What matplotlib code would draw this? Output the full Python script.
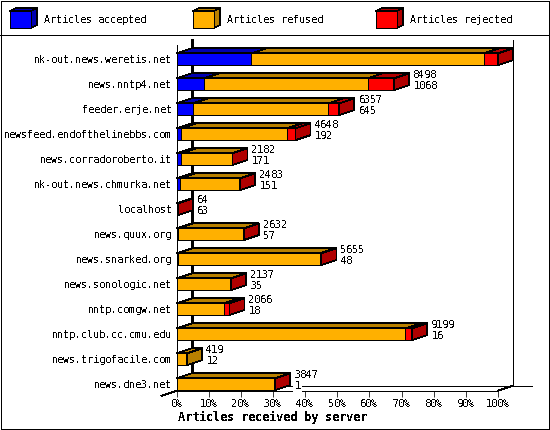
import matplotlib
matplotlib.use("Agg")
from matplotlib import pyplot as plt
from matplotlib.patches import Polygon, Rectangle

servers = ["nk-out.news.weretis.net", "news.nntp4.net", "feeder.erje.net",
           "newsfeed.endofthelinebbs.com", "news.corradoroberto.it",
           "nk-out.news.chmurka.net", "localhost", "news.quux.org",
           "news.snarked.org", "news.sonologic.net", "nntp.comgw.net",
           "nntp.club.cc.cmu.edu", "news.trigofacile.com", "news.dne3.net"]
received = [12548, 8498, 6357, 4648, 2182, 2483, 64, 2632, 5655, 2137, 2066, 9199, 419, 3847]
accepted = [2923, 1068, 645, 192, 171, 151, 63, 57, 48, 35, 18, 16, 12, 1]
rejected = [546, 1042, 430, 330, 20, 20, 1, 20, 60, 10, 220, 270, 0, 30]
refused = [r - a - x for r, a, x in zip(received, accepted, rejected)]

pct_ticks = [0, 10, 20, 30, 40, 50, 60, 70, 80, 90, 100]
legend_names = ["Articles accepted", "Articles refused", "Articles rejected"]
front_cols = ["#0000ff", "#ffb000", "#ff0000"]
dark_cols = ["#0000b0", "#b88000", "#b00000"]

plt.rcParams['font.family'] = ['DejaVu Sans Mono']
plt.rcParams['text.antialiased'] = False
plt.rcParams['text.hinting'] = 'auto'
plt.rcParams['text.hinting_factor'] = 1
plt.rcParams['lines.antialiased'] = False
plt.rcParams['patch.antialiased'] = False

W, H = 550, 430
LW = 0.55
FS = 7.25
fig = plt.figure(figsize=(W / 100, H / 100), dpi=100)

# page frame and legend, in pixel units
bg = fig.add_axes([0, 0, 1, 1])
bg.set_xlim(0, W)
bg.set_ylim(H, 0)
bg.axis('off')
bg.add_patch(Rectangle((0.5, 0.5), W - 1.5, H - 1.5, fc='white', ec='black', lw=LW))
bg.plot([0, W], [35, 35], color='black', lw=LW)
for name, x0, fc, dc in zip(legend_names, [10, 193, 376], front_cols, dark_cols):
    bg.add_patch(Polygon([(x0, 11), (x0 + 6, 8), (x0 + 27, 8), (x0 + 21, 11)], fc=dc, ec='black', lw=LW))
    bg.add_patch(Polygon([(x0 + 21, 11), (x0 + 27, 8), (x0 + 27, 25), (x0 + 21, 28)], fc=dc, ec='black', lw=LW))
    bg.add_patch(Rectangle((x0, 11), 21, 17, fc=fc, ec='black', lw=LW))
    bg.text(x0 + 34, 20, name, fontsize=FS, ha='left', va='center')

# front plane of the 3d chart: x in % of biggest server, y in rows
ax = fig.add_axes([176.5 / W, (H - 390.7) / H, 321.5 / W, 345.7 / H])
ax.patch.set_alpha(0)
ax.set_xlim(0, 100)
ax.set_ylim(13.26, -0.568)
for s in ax.spines.values():
    s.set_visible(False)
ax.set_xticks(pct_ticks)
ax.set_xticklabels(["%d%%" % p for p in pct_ticks], fontsize=FS)
ax.set_yticks(range(len(servers)))
ax.set_yticklabels(servers, fontsize=FS)
ax.tick_params(axis='x', length=4, width=LW, pad=2)
ax.tick_params(axis='y', length=0, pad=3)

dx = 15 / 321.5 * 100
dy = 0.2
bar_h = 0.47
top, bottom = ax.get_ylim()[1], ax.get_ylim()[0]

# walls behind the bars
line = dict(color='black', lw=0.7, clip_on=False, zorder=1)
ax.plot([dx, dx], [top - dy, bottom - dy], color='black', lw=0.85, clip_on=False, zorder=2)
ax.plot([100 + dx, 100 + dx], [top - dy, bottom - dy], **line)
ax.plot([dx, 100 + dx + 19 / 321.5 * 100], [bottom - dy, bottom - dy], **line)
ax.plot([0, 0], [top, bottom], **line)
ax.plot([0, 100], [bottom, bottom], **line)
ax.plot([-dx, 0], [bottom + dy, bottom], **line)
ax.plot([100, 100 + dx], [bottom, bottom - dy], **line)

scale = 100 / max(received)
for i, name in enumerate(servers):
    parts = [accepted[i] * scale, refused[i] * scale, rejected[i] * scale]
    y0, y1 = i - bar_h / 2, i + bar_h / 2
    left = 0
    last = 0
    for j, w in enumerate(parts):
        if w <= 0:
            continue
        ax.add_patch(Polygon([(left, y0), (left + dx, y0 - dy), (left + w + dx, y0 - dy), (left + w, y0)],
                             fc=dark_cols[j], ec='black', lw=LW, clip_on=False, zorder=3))
        ax.barh(i, w, height=bar_h, left=left, color=front_cols[j], edgecolor='black', lw=LW, clip_on=False, zorder=4)
        left += w
        last = j
    ax.add_patch(Polygon([(left, y0), (left + dx, y0 - dy), (left + dx, y1 - dy), (left, y1)],
                         fc=dark_cols[last], ec='black', lw=LW, clip_on=False, zorder=4))
    ax.annotate(str(received[i]), (left + dx, i), xytext=(3, 6.5), textcoords='offset points',
                fontsize=FS, ha='left', va='center', zorder=5)
    ax.annotate(str(accepted[i]), (left + dx, i), xytext=(3, -1.5), textcoords='offset points',
                fontsize=FS, ha='left', va='center', zorder=5,
                bbox=dict(fc='white', ec='none', pad=1))

bg.text(273, 417, "Articles received by server", fontsize=8.4, fontweight='bold', ha='center', va='center')

fig.savefig("out.png", dpi=100)
